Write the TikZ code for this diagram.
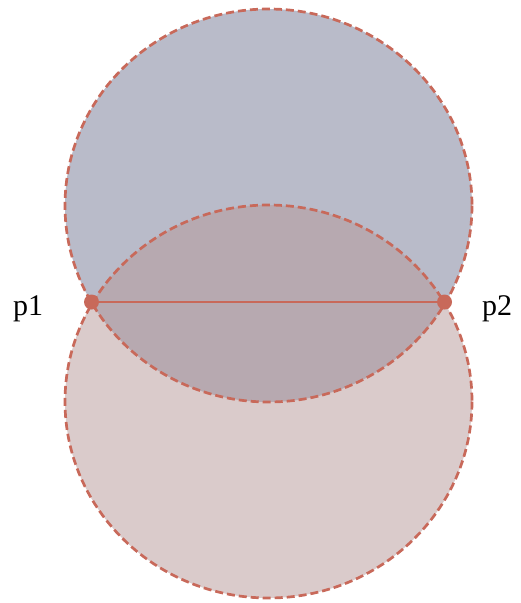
\documentclass[tikz,border=0pt]{standalone}
\usepackage{fontspec}
\setmainfont{Liberation Serif}
\definecolor{topfill}{HTML}{B9BBC9}
\definecolor{botfill}{HTML}{B69898}
\definecolor{edge}{HTML}{C8695A}
\tikzset{
  rim/.style={draw=edge, line width=2.7pt, dash pattern=on 8pt off 4pt},
  dot/.style={circle, fill=edge, inner sep=0pt, minimum size=15pt},
  lbl/.style={anchor=base, font=\fontsize{30}{36}\selectfont, text=black}
}
\begin{document}
\begin{tikzpicture}[x=1pt,y=-1pt]
\useasboundingbox (0,0) rectangle (520,603);
\fill[topfill] (268.5,205.5) ellipse [x radius=203.5, y radius=196.5];
\fill[botfill, fill opacity=0.5] (268.5,401.5) ellipse [x radius=203.5, y radius=196.5];
\draw[rim] (268.5,205.5) ellipse [x radius=203.5, y radius=196.5];
\draw[rim] (268.5,401.5) ellipse [x radius=203.5, y radius=196.5];
\node[dot] (p1) at (91.5,302) {};
\node[dot] (p2) at (444.5,302) {};
\draw[edge, line width=2.7pt] (p1.center) -- (p2.center);
\node[lbl] (l1) at (28,315) {p1};
\node[lbl] (l2) at (497,315) {p2};
\end{tikzpicture}
\end{document}
